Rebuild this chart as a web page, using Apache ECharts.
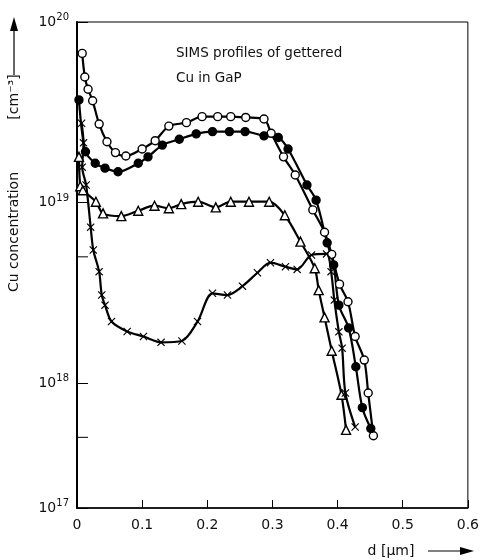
<!DOCTYPE html>
<html>
<head>
<meta charset="utf-8">
<script src="https://cdn.jsdelivr.net/npm/echarts@6/dist/echarts.min.js"></script>
<style>html,body{margin:0;padding:0;background:#fff;}#c{width:482px;height:560px;}</style>
</head>
<body>
<div id="c"></div>
<script>
// ---- data (depth d in µm, Cu concentration in cm^-3) ----
const xTickLabels = ['0', '0.1', '0.2', '0.3', '0.4', '0.5', '0.6'];
const yTickExponents = [17, 18, 19, 20];
const minorTickValues = [5e17, 5e18];

const openD = [0.008, 0.012, 0.017, 0.024, 0.034, 0.046, 0.059, 0.075, 0.100, 0.120, 0.141, 0.168, 0.192, 0.216, 0.236, 0.259, 0.287, 0.298, 0.317, 0.335, 0.362, 0.380, 0.391, 0.403, 0.416, 0.427, 0.441, 0.447, 0.455];
const openC = [6.7e19, 4.96e19, 4.24e19, 3.66e19, 2.72e19, 2.17e19, 1.89e19, 1.81e19, 1.98e19, 2.20e19, 2.65e19, 2.77e19, 2.99e19, 2.99e19, 2.99e19, 2.96e19, 2.90e19, 2.42e19, 1.79e19, 1.42e19, 9.1e18, 6.84e18, 5.16e18, 3.53e18, 2.82e18, 1.81e18, 1.34e18, 8.8e17, 5.1e17];

const filledD = [0.003, 0.013, 0.028, 0.043, 0.063, 0.094, 0.109, 0.131, 0.157, 0.183, 0.208, 0.234, 0.258, 0.287, 0.309, 0.324, 0.353, 0.367, 0.384, 0.394, 0.402, 0.417, 0.428, 0.438, 0.451];
const filledC = [3.7e19, 1.91e19, 1.65e19, 1.55e19, 1.48e19, 1.65e19, 1.79e19, 2.08e19, 2.24e19, 2.40e19, 2.47e19, 2.47e19, 2.47e19, 2.34e19, 2.29e19, 1.98e19, 1.25e19, 1.03e19, 5.98e18, 4.51e18, 2.70e18, 2.02e18, 1.23e18, 7.3e17, 5.6e17];

const triD = [0.003, 0.005, 0.009, 0.029, 0.040, 0.068, 0.094, 0.119, 0.141, 0.160, 0.186, 0.213, 0.236, 0.264, 0.295, 0.319, 0.343, 0.365, 0.371, 0.380, 0.391, 0.406, 0.413];
const triC = [1.79e19, 1.23e19, 1.17e19, 1.01e19, 8.7e18, 8.4e18, 9.0e18, 9.6e18, 9.3e18, 9.8e18, 1.01e19, 9.4e18, 1.01e19, 1.01e19, 1.01e19, 8.5e18, 6.07e18, 4.32e18, 3.27e18, 2.31e18, 1.51e18, 8.6e17, 5.5e17];

const crossD = [0.007, 0.010, 0.008, 0.014, 0.021, 0.025, 0.034, 0.038, 0.043, 0.053, 0.077, 0.102, 0.129, 0.161, 0.185, 0.208, 0.231, 0.254, 0.277, 0.297, 0.320, 0.338, 0.360, 0.383, 0.390, 0.395, 0.402, 0.407, 0.412, 0.427];
const crossC = [2.75e19, 2.14e19, 1.57e19, 1.25e19, 7.3e18, 5.46e18, 4.14e18, 3.07e18, 2.70e18, 2.19e18, 1.93e18, 1.81e18, 1.68e18, 1.71e18, 2.19e18, 3.14e18, 3.07e18, 3.44e18, 4.08e18, 4.64e18, 4.41e18, 4.26e18, 5.12e18, 5.19e18, 4.14e18, 2.88e18, 1.92e18, 1.56e18, 8.8e17, 5.7e17];

const FONT = 'DejaVu Sans';
const pair = (xs, ys) => xs.map((x, i) => [x, ys[i]]);
const crossPath = 'path://M1,0 L5,4 L9,0 L10,1 L6,5 L10,9 L9,10 L5,6 L1,10 L0,9 L4,5 L0,1 Z';

function lineSeries(name, data, symbol, fill, size) {
  return {
    name, type: 'line', data, smooth: 0.3, symbol, symbolSize: size,
    lineStyle: { color: '#000', width: 2.2 },
    itemStyle: { color: fill, borderColor: '#000', borderWidth: symbol === crossPath ? 0 : 1.4 },
    z: 3
  };
}

const chart = echarts.init(document.getElementById('c'), null, { renderer: 'canvas' });
const yMin = Math.pow(10, 20 - 486 / 180.5);

chart.setOption({
  animation: false,
  backgroundColor: '#fff',
  textStyle: { fontFamily: FONT },
  grid: { left: 77, right: 12, top: 22, bottom: 52, show: true, borderColor: '#000', borderWidth: 1 },
  xAxis: {
    type: 'value', min: 0, max: 0.6, interval: 0.1,
    axisLine: { lineStyle: { color: '#000', width: 1.5 } },
    axisTick: { inside: true, length: 8, lineStyle: { color: '#000' } },
    splitLine: { show: false },
    axisLabel: {
      color: '#111', fontSize: 14, fontFamily: FONT, margin: 10,
      formatter: v => xTickLabels[Math.round(v * 10)]
    }
  },
  yAxis: {
    type: 'log', logBase: 10, min: yMin, max: 1e20,
    axisLine: { lineStyle: { color: '#000', width: 2 } },
    axisTick: { inside: true, length: 11, lineStyle: { color: '#000' } },
    splitLine: { show: false },
    axisLabel: {
      color: '#111', fontFamily: FONT, margin: 8,
      formatter: v => {
        const e = Math.log10(v);
        const r = Math.round(e);
        const exp = Math.abs(e - r) < 0.01 ? r : yTickExponents[0];
        return '{b|10}{s|' + exp + '}';
      },
      rich: {
        b: { fontSize: 14, fontFamily: FONT, color: '#111' },
        s: { fontSize: 10, fontFamily: FONT, color: '#111', padding: [0, 0, 9, 0] }
      }
    }
  },
  series: [
    lineSeries('open', pair(openD, openC), 'circle', '#fff', 8),
    lineSeries('filled', pair(filledD, filledC), 'circle', '#000', 8),
    lineSeries('tri', pair(triD, triC), 'triangle', '#fff', 9),
    lineSeries('cross', pair(crossD, crossC), crossPath, '#000', 8),
    {
      type: 'custom', silent: true, z: 2,
      data: minorTickValues.map(v => [0, v]),
      renderItem: (params, api) => {
        const p = api.coord([api.value(0), api.value(1)]);
        return { type: 'line', shape: { x1: p[0], y1: p[1], x2: p[0] + 11, y2: p[1] }, style: { stroke: '#000', lineWidth: 1 } };
      }
    }
  ],
  graphic: [
    { type: 'text', left: 176, top: 46, style: { text: 'SIMS profiles of gettered', font: '13.5px "DejaVu Sans"', fill: '#111' } },
    { type: 'text', left: 176, top: 71, style: { text: 'Cu in GaP', font: '13.5px "DejaVu Sans"', fill: '#111' } },
    { type: 'text', x: 14, y: 232, rotation: Math.PI / 2, style: { text: 'Cu concentration', font: '14px "DejaVu Sans"', fill: '#111', align: 'center', verticalAlign: 'middle' } },
    { type: 'text', x: 14, y: 97, rotation: Math.PI / 2, style: { text: '[cm\u207B\u00B3]', font: '14px "DejaVu Sans"', fill: '#111', align: 'center', verticalAlign: 'middle' } },
    { type: 'line', shape: { x1: 14, y1: 75, x2: 14, y2: 28 }, style: { stroke: '#000', lineWidth: 1.2 } },
    { type: 'polygon', shape: { points: [[14, 17], [10, 31], [18, 31]] }, style: { fill: '#000' } },
    { type: 'text', x: 391, y: 551, style: { text: 'd [\u03BCm]', font: '14px "DejaVu Sans"', fill: '#111', align: 'center', verticalAlign: 'middle' } },
    { type: 'line', shape: { x1: 428, y1: 551, x2: 462, y2: 551 }, style: { stroke: '#000', lineWidth: 1.2 } },
    { type: 'polygon', shape: { points: [[474, 551], [460, 547], [460, 555]] }, style: { fill: '#000' } }
  ]
});
</script>
</body>
</html>
